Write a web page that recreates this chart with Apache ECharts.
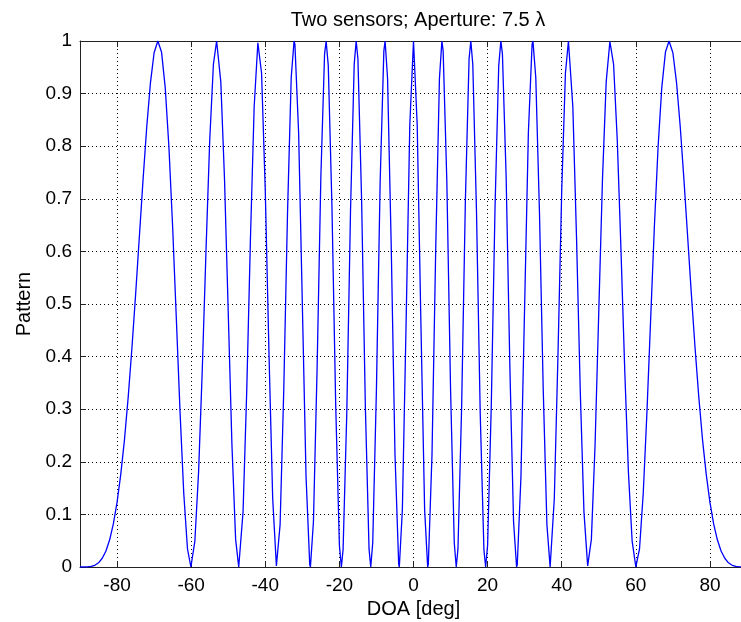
<!DOCTYPE html>
<html>
<head>
<meta charset="utf-8">
<script src="https://cdn.jsdelivr.net/npm/echarts@6/dist/echarts.min.js"></script>
<style>
html,body{margin:0;padding:0;background:#fff;}
#chart{width:741px;height:622px;}
</style>
</head>
<body>
<div id="chart"></div>
<script>
// DOA angle (deg) samples
const doa = [
-90,-89,-88,-87,-86,-85,-84,-83,-82,-81,-80,-79,-78,-77,-76,-75,-74,-73,-72,-71,-70,-69,-68.96,-68,-67,-66,-65,-64,-63,-62,-61,-60.073,-60,-59,-58,-57,-56,-55,-54,-53.13,-53,-52,-51,-50,-49,-48,-47.166,-47,-46,-45,-44,-43,-42,-41.81,-41,-40,-39,-38,-37,-36.87,-36,-35,-34,-33,-32.231,-32,-31,-30,-29,-28,-27.818,-27,-26,-25,-24,-23.578,-23,-22,-21,-20,-19.471,-19,-18,-17,-16,-15.466,-15,-14,-13,-12,-11.537,-11,-10,-9,-8,-7.662,-7,-6,-5,-4,-3.823,-3,-2,-1,
0,
1,2,3,3.823,4,5,6,7,7.662,8,9,10,11,11.537,12,13,14,15,15.466,16,17,18,19,19.471,20,21,22,23,23.578,24,25,26,27,27.818,28,29,30,31,32,32.231,33,34,35,36,36.87,37,38,39,40,41,41.81,42,43,44,45,46,47,47.166,48,49,50,51,52,53,53.13,54,55,56,57,58,59,60,60.073,61,62,63,64,65,66,67,68,68.96,69,70,71,72,73,74,75,76,77,78,79,80,81,82,83,84,85,86,87,88,89,90
];
// Pattern values read at each DOA sample
const pattern = [
0,0.0000,0.0002,0.0010,0.0033,0.0080,0.0166,0.0305,0.0517,0.0818,0.1228,0.1760,0.2418,0.3224,0.4148,0.5174,0.6260,0.7345,0.8355,0.9198,0.9777,1.0000,1,0.9792,0.9114,0.7979,0.6465,0.4716,0.2944,0.1401,0.0347,0,0.0002,0.0493,0.1804,0.3756,0.6005,0.8098,0.9555,1,0.9990,0.9223,0.7370,0.4853,0.2323,0.0525,0,0.0022,0.1048,0.3356,0.6245,0.8751,0.9966,1,0.9387,0.7154,0.4060,0.1301,0.0018,0,0.0806,0.3400,0.6724,0.9307,1,0.9935,0.8254,0.5,0.1719,0.0044,0,0.0866,0.3824,0.7419,0.9750,1,0.9531,0.6828,0.3094,0.0413,0,0.0331,0.2939,0.6759,0.9560,1,0.9662,0.6969,0.3076,0.0344,0,0.0462,0.3385,0.7319,0.9812,1,0.9288,0.6059,0.2155,0.0053,0,0.1097,0.4631,0.8403,
1,
0.8403,0.4631,0.1097,0,0.0053,0.2155,0.6059,0.9288,1,0.9812,0.7319,0.3385,0.0462,0,0.0344,0.3076,0.6969,0.9662,1,0.9560,0.6759,0.2939,0.0331,0,0.0413,0.3094,0.6828,0.9531,1,0.9750,0.7419,0.3824,0.0866,0,0.0044,0.1719,0.5,0.8254,0.9935,1,0.9307,0.6724,0.3400,0.0806,0,0.0018,0.1301,0.4060,0.7154,0.9387,1,0.9966,0.8751,0.6245,0.3356,0.1048,0.0022,0,0.0525,0.2323,0.4853,0.7370,0.9223,0.9990,1,0.9555,0.8098,0.6005,0.3756,0.1804,0.0493,0.0002,0,0.0347,0.1401,0.2944,0.4716,0.6465,0.7979,0.9114,0.9792,1,1.0000,0.9777,0.9198,0.8355,0.7345,0.6260,0.5174,0.4148,0.3224,0.2418,0.1760,0.1228,0.0818,0.0517,0.0305,0.0166,0.0080,0.0033,0.0010,0.0002,0.0000,0
];
const xTicks = [-80,-60,-40,-20,0,20,40,60,80];
const titleText = 'Two sensors; Aperture: 7.5 \u03bb';
const xName = 'DOA [deg]';
const yName = 'Pattern';

const FONT = '"Liberation Sans", Arial, Helvetica, sans-serif';
const seriesData = doa.map((d, i) => [d, pattern[i]]);

const chart = echarts.init(document.getElementById('chart'), null, {renderer: 'canvas'});
chart.setOption({
  animation: false,
  backgroundColor: '#ffffff',
  title: {
    text: titleText,
    left: 413,
    textAlign: 'center',
    top: 5,
    textStyle: {fontFamily: FONT, fontSize: 20, fontWeight: 'normal', color: '#000'}
  },
  grid: {left: 80, right: -6, top: 41, bottom: 55, containLabel: false, outerBoundsMode: 'none'},
  xAxis: [{
    type: 'value', min: -90, max: 90, splitNumber: 9, position: 'bottom',
    name: xName, nameLocation: 'middle', nameGap: 31,
    nameTextStyle: {fontFamily: FONT, fontSize: 20, color: '#000'},
    axisLine: {show: true, onZero: false, lineStyle: {color: '#222', width: 1}},
    axisTick: {show: true, inside: true, length: 6, customValues: xTicks, lineStyle: {color: '#222'}},
    axisLabel: {show: true, customValues: xTicks, margin: 9, fontFamily: FONT, fontSize: 19, color: '#000'},
    splitLine: {show: true, lineStyle: {color: '#000', width: 1, type: [1, 3]}}
  }, {
    type: 'value', min: -90, max: 90, splitNumber: 9, position: 'top',
    axisLine: {show: true, onZero: false, lineStyle: {color: '#222', width: 1}},
    axisTick: {show: true, inside: true, length: 6, customValues: xTicks, lineStyle: {color: '#222'}},
    axisLabel: {show: false},
    splitLine: {show: false}
  }],
  yAxis: [{
    type: 'value', min: 0, max: 1, interval: 0.1, position: 'left',
    name: yName, nameLocation: 'middle', nameGap: 38,
    nameTextStyle: {fontFamily: FONT, fontSize: 20, color: '#000'},
    axisLine: {show: true, onZero: false, lineStyle: {color: '#222', width: 1}},
    axisTick: {show: true, inside: true, length: 6, lineStyle: {color: '#222'}},
    axisLabel: {show: true, margin: 8, fontFamily: FONT, fontSize: 19, color: '#000',
      formatter: v => String(Math.round(v * 10) / 10)},
    splitLine: {show: true, lineStyle: {color: '#000', width: 1, type: [1, 3]}}
  }],
  series: [{
    type: 'line',
    data: seriesData,
    xAxisIndex: 0,
    yAxisIndex: 0,
    showSymbol: false,
    symbol: 'none',
    lineStyle: {color: '#0000ff', width: 1.3},
    z: 5
  }]
});
</script>
</body>
</html>
